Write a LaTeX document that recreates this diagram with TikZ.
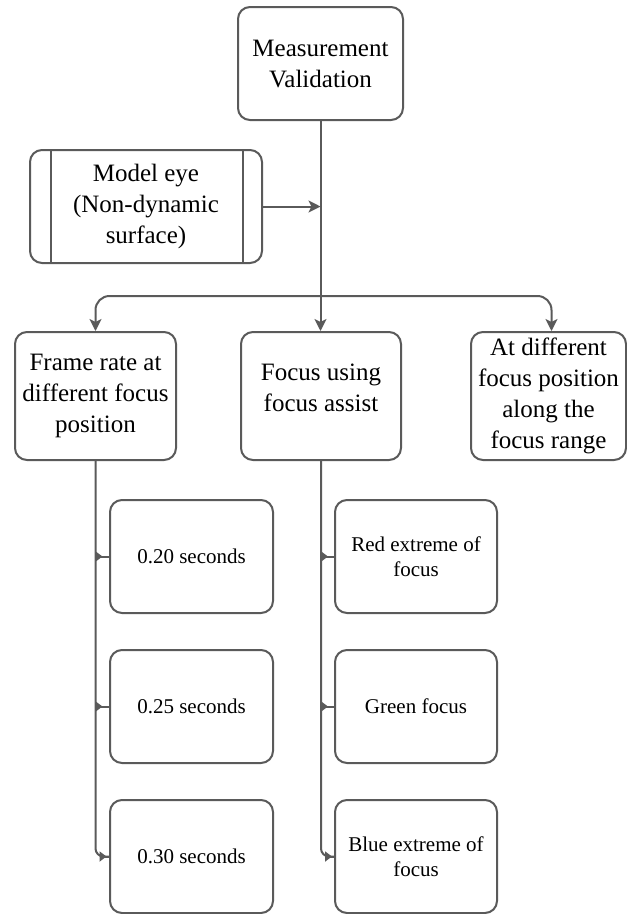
\documentclass[tikz,border=0pt]{standalone}
\usepackage{fontspec}
\setmainfont{Liberation Serif}
\usetikzlibrary{arrows.meta}
\definecolor{ln}{HTML}{5A5A5A}
\tikzset{
  box/.style={draw=ln, line width=2pt, rounded corners=12pt, align=center, inner sep=0pt, fill=white},
  big/.style={font=\fontsize{25}{31}\selectfont},
  small/.style={font=\fontsize{21}{25}\selectfont},
  conn/.style={draw=ln, line width=2pt},
  arr/.style={conn, -{Stealth[length=12pt,width=12pt,inset=3pt]}},
  mk/.style={conn, -{Triangle[reversed,length=7pt,width=10pt]}},
}
\begin{document}
\begin{tikzpicture}[x=1pt,y=-1pt]
\useasboundingbox (0,0) rectangle (627,914);
% nodes
\node[box,big,minimum width=165pt,minimum height=113pt] (top) at (320.5,63.5) {Measurement\\Validation};
\node[box,big,minimum width=232pt,minimum height=113pt] (eye) at (146,206.5) {Model eye\\(Non-dynamic\\surface)};
\draw[ln,line width=2pt] ([xshift=22pt]eye.north west) -- ([xshift=22pt]eye.south west);
\draw[ln,line width=2pt] ([xshift=-20pt]eye.north east) -- ([xshift=-20pt]eye.south east);
\node[box,big,minimum width=161pt,minimum height=128pt] (fr) at (95.5,396) {Frame rate at\\different focus\\position};
\node[box,minimum width=160pt,minimum height=128pt] (fa) at (321,396) {};
\node[big,align=center] (fat) at (321,388) {Focus using\\focus assist};
\node[box,big,minimum width=155pt,minimum height=128pt] (dp) at (548.5,396) {At different\\focus position\\along the\\focus range};
\node[box,small,minimum width=163pt,minimum height=113pt] (s1) at (191.5,556.5) {0.20 seconds};
\node[box,small,minimum width=163pt,minimum height=113pt] (s2) at (191.5,706.5) {0.25 seconds};
\node[box,small,minimum width=163pt,minimum height=113pt] (s3) at (191.5,856.5) {0.30 seconds};
\node[box,small,minimum width=162pt,minimum height=113pt] (m1) at (416,556.5) {Red extreme of\\focus};
\node[box,small,minimum width=162pt,minimum height=113pt] (m2) at (416,706.5) {Green focus};
\node[box,small,minimum width=162pt,minimum height=113pt] (m3) at (416,856.5) {Blue extreme of\\focus};
% connectors
\coordinate (br) at (320.5,296);
\draw[arr] (top.south) -- (top.south |- fa.north);
\draw[arr] (eye.east) -- (top.south |- eye.east);
\draw[arr, rounded corners=14pt] (br) -| (fr.north);
\draw[arr, rounded corners=14pt] (br) -| ([xshift=3pt]dp.north);
% trunks
\draw[conn, rounded corners=8pt] (fr.south) |- (s3.west);
\draw[conn, rounded corners=8pt] (fa.south) |- (m3.west);
\draw[mk] (s1.west) -- (fr.south |- s1.west);
\draw[mk] (s2.west) -- (fr.south |- s2.west);
\draw[mk] (s3.west) -- ([xshift=4pt]fr.south |- s3.west);
\draw[mk] (m1.west) -- (fa.south |- m1.west);
\draw[mk] (m2.west) -- (fa.south |- m2.west);
\draw[mk] (m3.west) -- ([xshift=4pt]fa.south |- m3.west);
\end{tikzpicture}
\end{document}
